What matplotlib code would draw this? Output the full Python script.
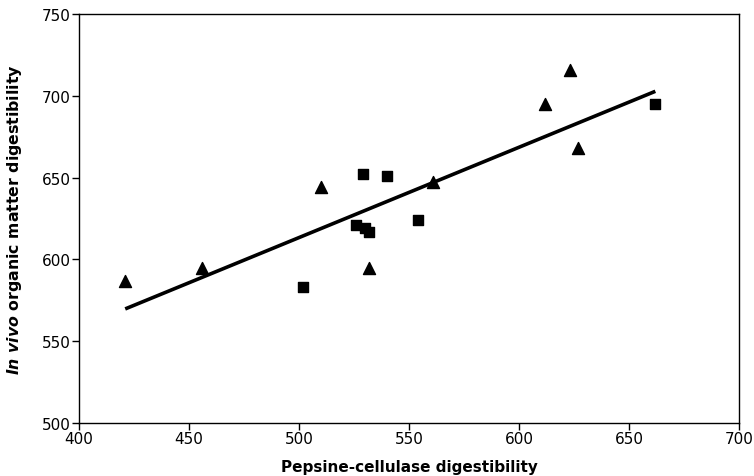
import matplotlib
matplotlib.use("Agg")
import matplotlib.pyplot as plt
import numpy as np

plt.rcParams['font.family'] = ['DejaVu Sans']
plt.rcParams['mathtext.fontset'] = 'custom'
plt.rcParams['mathtext.it'] = 'DejaVu Sans:italic:bold'
plt.rcParams['mathtext.rm'] = 'DejaVu Sans:bold'

# triangles
tri_x = [421, 456, 510, 532, 561, 612, 623, 627]
tri_y = [587, 595, 644, 595, 647, 695, 716, 668]
# squares
sq_x = [502, 526, 530, 532, 529, 540, 554, 662]
sq_y = [583, 621, 619, 617, 652, 651, 624, 695]

x_ticks = [400, 450, 500, 550, 600, 650, 700]
y_ticks = [500, 550, 600, 650, 700, 750]

fig = plt.figure(figsize=(7.54, 4.77), dpi=100)
ax = fig.add_axes([0.1048, 0.1111, 0.8752, 0.8575])

ax.scatter(tri_x, tri_y, marker='^', s=75, color='black', zorder=3)
ax.scatter(sq_x, sq_y, marker='s', s=45, color='black', zorder=3)

# linear fit through all points
all_x = np.array(tri_x + sq_x)
all_y = np.array(tri_y + sq_y)
k, b = np.polyfit(all_x, all_y, 1)
xs = np.array([all_x.min(), all_x.max()])
ax.plot(xs, k * xs + b, color='black', lw=2.6, solid_capstyle='butt', zorder=4)

ax.set_xlim(400, 700)
ax.set_ylim(500, 750)
ax.set_xticks(x_ticks)
ax.set_yticks(y_ticks)
ax.tick_params(direction='out', length=5, width=1, labelsize=11, pad=1)
for s in ax.spines.values():
    s.set_linewidth(1)

ax.set_xlabel("Pepsine-cellulase digestibility", fontsize=11, fontweight='bold', labelpad=9)
ax.set_ylabel(r"$\it{In\ vivo}$ organic matter digestibility", fontsize=11.3, fontweight='bold', labelpad=13)

fig.savefig("out.png", dpi=100)
